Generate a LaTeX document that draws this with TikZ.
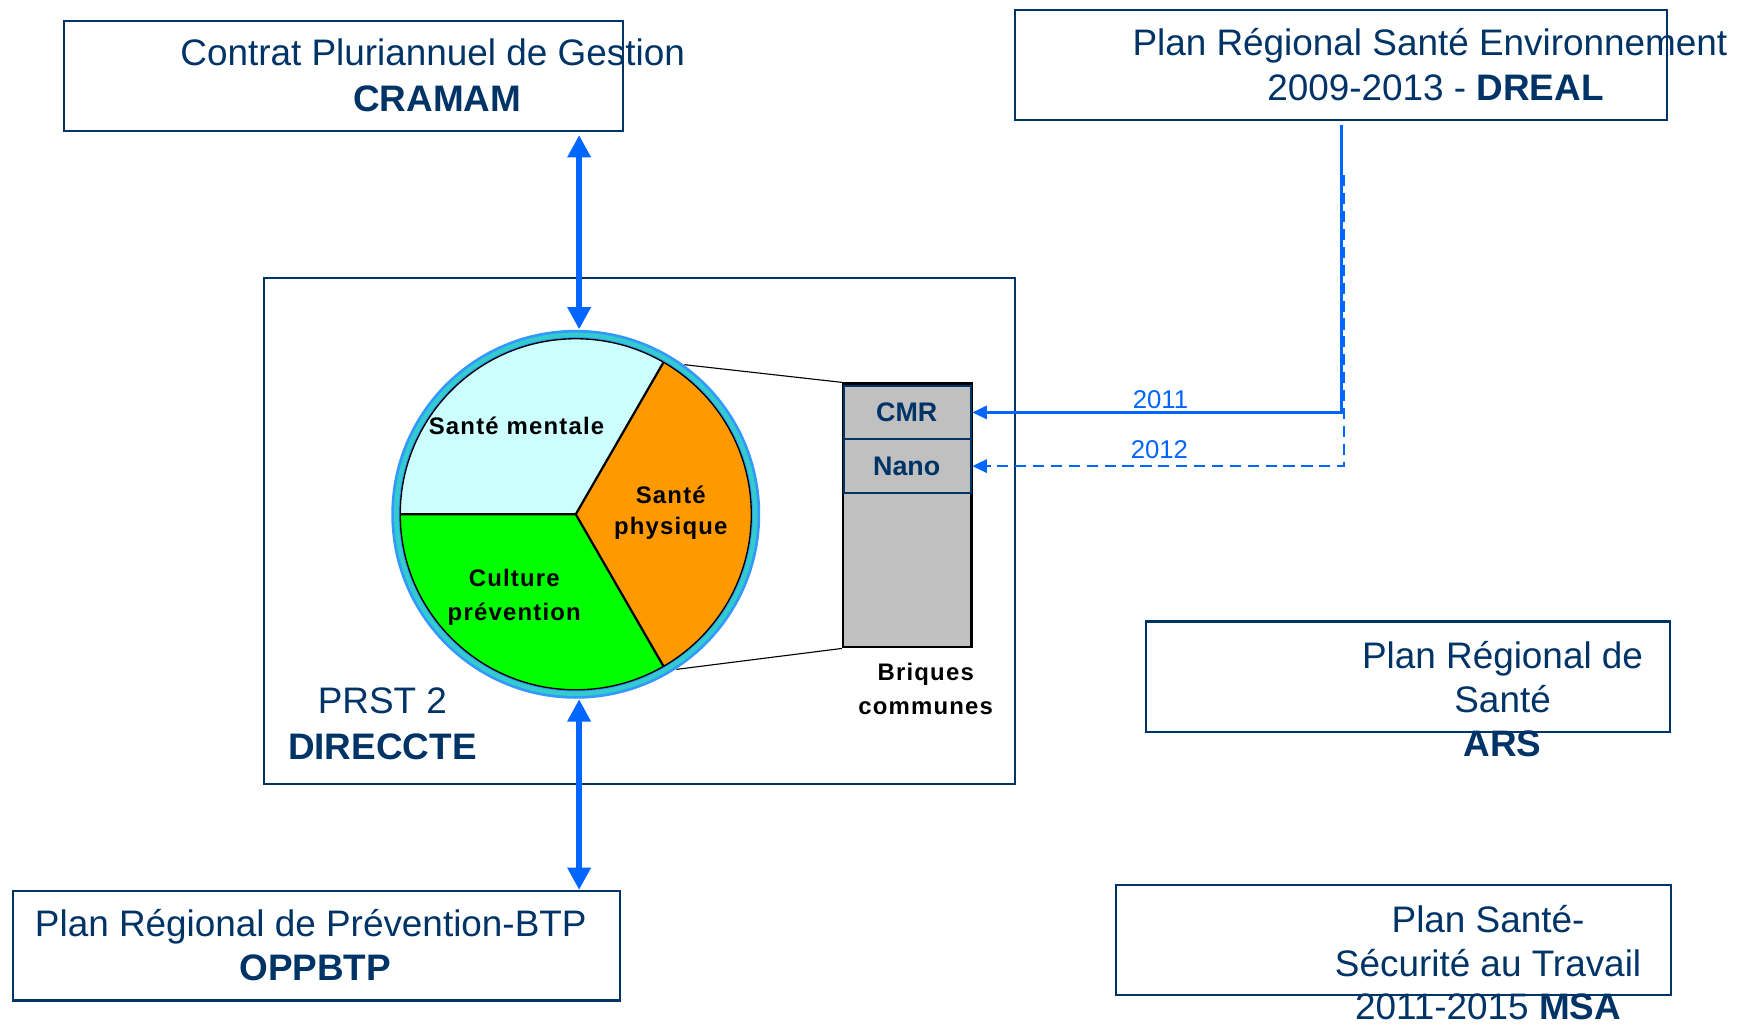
\documentclass[tikz,border=0pt]{standalone}
\usepackage{fontspec}
\setmainfont{Liberation Sans}
\usetikzlibrary{arrows.meta}
\definecolor{navy}{HTML}{003366}
\definecolor{arrowblue}{HTML}{0066FF}
\definecolor{ringblue}{HTML}{3399FF}
\definecolor{ringcyan}{HTML}{33CCCC}
\definecolor{mentalfill}{HTML}{CCFFFF}
\definecolor{physfill}{HTML}{FF9900}
\definecolor{culturefill}{HTML}{00FF00}
\definecolor{brickgrey}{HTML}{C0C0C0}
\begin{document}
\begin{tikzpicture}[x=0.5pt,y=-0.5pt,
  planbox/.style={draw=navy, line width=0.9pt, inner sep=0pt, anchor=north west},
  bigtext/.style={text=navy, inner sep=0pt, anchor=base, font=\fontsize{16.5}{20}\selectfont},
  bigbold/.style={bigtext, font=\fontsize{16.5}{20}\selectfont\bfseries},
  pietext/.style={text=black, inner sep=0pt, anchor=base, font=\fontsize{10.7}{13}\selectfont\bfseries\addfontfeatures{LetterSpace=5}},
  celltext/.style={text=navy, inner sep=0pt, anchor=base, font=\fontsize{12}{14}\selectfont\bfseries},
  yeartext/.style={text=arrowblue, inner sep=0pt, anchor=base, font=\fontsize{11.5}{13}\selectfont},
  cell/.style={draw=navy, line width=0.9pt, fill=brickgrey, inner sep=0pt, anchor=north west, minimum width=57pt, minimum height=24pt},
  bigarrow/.style={arrowblue, line width=2.5pt, {Triangle[length=10pt,width=10pt]}-{Triangle[length=10pt,width=10pt]}},
  linkarrow/.style={arrowblue, line width=1pt, -{Triangle[length=6.5pt,width=6pt]}},
  linkdash/.style={linkarrow, dash pattern=on 5pt off 3pt}]
\useasboundingbox (0,0) rectangle (1568,917);

% boxes
\node[planbox, minimum width=250pt, minimum height=49pt] (cramam) at (56,18) {};
\node[planbox, minimum width=291.5pt, minimum height=49pt] (dreal) at (907,8) {};
\node[planbox, minimum width=336pt, minimum height=226pt] (prst) at (235,248) {};
\node[planbox, minimum width=234.5pt, minimum height=49.5pt] (ars) at (1024,555) {};
\node[planbox, minimum width=248.5pt, minimum height=49pt] (msa) at (997,791) {};
\node[planbox, minimum width=271.5pt, minimum height=49pt] (oppbtp) at (11,796) {};

% texts of boxes
\node[bigtext] (t1a) at (387,59) {Contrat Pluriannuel de Gestion};
\node[bigbold] (t1b) at (391,100) {CRAMAM};
\node[bigtext] (t2a) at (1279,50) {Plan Régional Santé Environnement};
\node[bigtext] (t2b) at (1284,90) {2009-2013 - \textbf{DREAL}};
\node[bigtext] (t3a) at (342,638) {PRST 2};
\node[bigbold] (t3b) at (342,679) {DIRECCTE};
\node[bigtext] (t4a) at (1344,598) {Plan Régional de};
\node[bigtext] (t4b) at (1344,637) {Santé};
\node[bigbold] (t4c) at (1344,677) {ARS};
\node[bigtext] (t5a) at (1331,834) {Plan Santé-};
\node[bigtext] (t5b) at (1331,873) {Sécurité au Travail};
\node[bigtext] (t5c) at (1331,912) {2011-2015 \textbf{MSA}};
\node[bigtext] (t6a) at (278,838) {Plan Régional de Prévention-BTP};
\node[bigbold] (t6b) at (282,877) {OPPBTP};

% ring and pie
\node[circle, fill=ringblue, minimum size=165pt, inner sep=0pt] (ring) at (515,460) {};
\node[circle, fill=ringcyan, minimum size=162.5pt, inner sep=0pt] (ringc) at (515,460) {};
\node[circle, fill=ringblue, minimum size=158.5pt, inner sep=0pt] (ringi) at (515,460) {};
\fill[mentalfill] (515,460) -- (593.5,324) arc[start angle=-60, end angle=-180, radius=157] -- cycle;
\fill[physfill] (515,460) -- (593.5,596) arc[start angle=60, end angle=-60, radius=157] -- cycle;
\fill[culturefill] (515,460) -- (358,460) arc[start angle=180, end angle=60, radius=157] -- cycle;
\draw[black, line width=0.6pt] (515,460) circle[radius=157];
\draw[black, line width=1pt] (358,460) -- (515,460) -- (593.5,324) (515,460) -- (593.5,596);

\node[pietext] (pm) at (462,389) {Santé mentale};
\node[pietext] (pp1) at (600,450) {Santé};
\node[pietext] (pp2) at (600,478) {physique};
\node[pietext] (pc1) at (460,525) {Culture};
\node[pietext] (pc2) at (460,555) {prévention};

% bricks
\node[draw=black, line width=1pt, fill=brickgrey, inner sep=0pt, anchor=north west, minimum width=57.5pt, minimum height=118pt] (bricks) at (753,342) {};
\node[cell] (cmr) at (754,344) {};
\node[cell] (nano) at (754,392) {};
\node[celltext] (cmrt) at (811,377) {CMR};
\node[celltext] (nanot) at (811,425) {Nano};
\node[pietext] (br1) at (828,609) {Briques};
\node[pietext] (br2) at (828,639) {communes};

\draw[black, line width=0.5pt] (ring.54) -- (bricks.north west);
\draw[black, line width=0.5pt] (ring.-57) -- (bricks.south west);

% arrows
\coordinate (ringtop) at ([xshift=1.5pt]ring.north);
\coordinate (ringbot) at ([xshift=1.5pt]ring.south);
\draw[bigarrow] ([yshift=-1.5pt]cramam.south -| ringtop) -- (ringtop);
\draw[bigarrow] (ringbot) -- (oppbtp.north -| ringbot);
\draw[linkarrow] ([xshift=0.25pt,yshift=-2pt]dreal.south) |- (cmr.east);
\draw[linkdash] ([xshift=1.25pt,yshift=-24.5pt]dreal.south) |- (nano.east);
\node[yeartext] (y1) at (1038,365) {2011};
\node[yeartext] (y2) at (1037,410) {2012};
\end{tikzpicture}
\end{document}
